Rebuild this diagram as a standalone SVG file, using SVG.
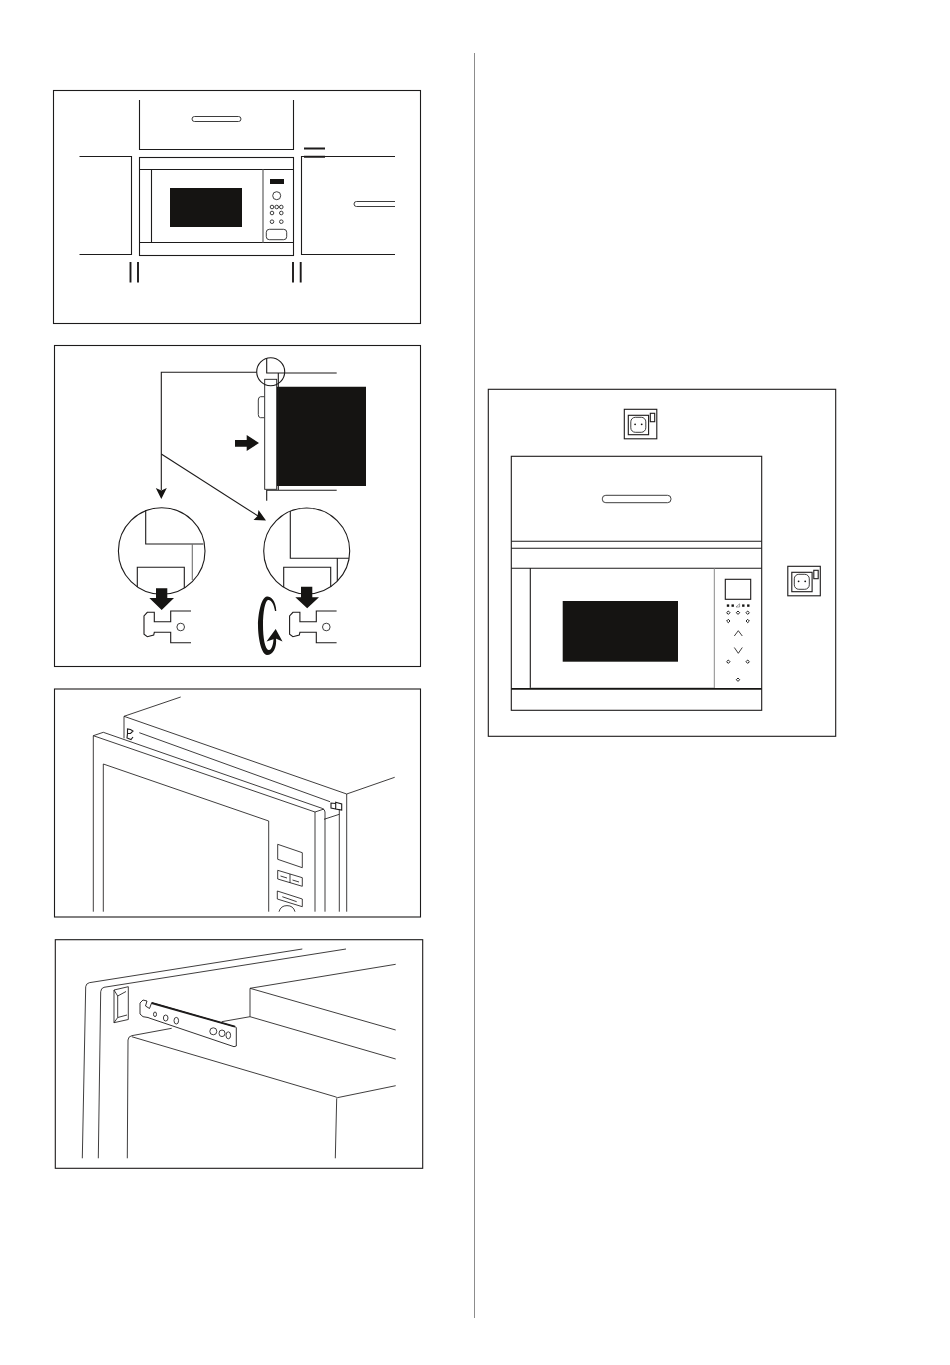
<svg xmlns="http://www.w3.org/2000/svg" width="950" height="1365" viewBox="0 0 950 1365">
<style>
.l{fill:none;stroke:#1d1b1b;stroke-width:1.1}
.b{fill:none;stroke:#1d1b1b;stroke-width:1.9}
.t{fill:none;stroke:#1d1b1b;stroke-width:.85}
.g{fill:none;stroke:#6f6f6f;stroke-width:1.1}
.w{fill:#fff;stroke:#1d1b1b;stroke-width:.9}
.k{fill:#151412;stroke:none}
.h{fill:none;stroke:#333;stroke-width:.95}
</style>
<defs>
<g id="clip"><path class="l" d="M191 611H170.7V621.7H154.3V612.3H147.3L144 616V634.3L147.3 636.7L153.7 635L154.3 632.3H170.7V642.7H191"/><circle class="h" cx="180.7" cy="627" r="3.8"/></g>
<g id="socket"><rect class="l" x="0" y="0" width="32.5" height="29.5"/><rect class="l" x="4" y="6" width="20.3" height="19.4"/><rect class="l" x="26" y="4" width="4.4" height="8.4"/><rect class="h" x="6.5" y="8" width="15" height="15" rx="4.5"/><circle class="k" cx="10.8" cy="15" r=".9"/><circle class="k" cx="17.4" cy="15" r=".9"/></g>
<g id="dm"><path d="M0-1.7L1.7 0L0 1.7L-1.7 0Z" fill="none" stroke="#222" stroke-width="1"/></g>
</defs>
<rect width="950" height="1365" fill="#fff"/>
<path id="divider" d="M474.5 53V1318" fill="none" stroke="#8c8c8c" stroke-width="1"/>

<g id="panel-1">
<rect class="l" x="53.5" y="90.5" width="367" height="233"/>
<path class="l" d="M139.5 100V149.5H293.5V100"/>
<rect class="h" x="192" y="116.5" width="49" height="5" rx="2.5"/>
<path class="b" d="M304 148.5H325M304 156.7H325"/>
<path class="l" d="M79.5 156.5H131.5V254.5H79.5"/>
<path class="l" d="M395 156.5H301.5V254.5H395"/>
<path class="h" d="M395 201.5H356.5A2.5 2.5 0 0 0 356.5 206.5H395"/>
<rect class="l" x="139.5" y="157.5" width="154" height="98"/>
<path class="l" d="M139.5 169.5H293.5M139.5 242.5H293.5M151.5 169.5V242.5"/>
<path d="M263 169.5V242.5" fill="none" stroke="#777" stroke-width="1.4"/>
<rect class="k" x="170" y="188" width="72" height="39"/>
<rect class="k" x="270" y="179" width="14" height="5"/>
<circle class="h" cx="276.7" cy="195.7" r="4"/>
<g class="h"><circle cx="272" cy="207" r="1.8"/><circle cx="276.7" cy="207" r="1.8"/><circle cx="281.3" cy="207" r="1.8"/><circle cx="272" cy="213" r="1.8"/><circle cx="281.3" cy="213" r="1.8"/><circle cx="272" cy="221.7" r="1.8"/><circle cx="281.3" cy="221.7" r="1.8"/></g>
<rect class="h" x="266.3" y="229.3" width="20.4" height="10.4" rx="3"/>
<path class="b" d="M130.5 262V282.5M138 262V282.5M293 262V282.5M300.7 262V282.5"/>
</g>

<g id="panel-2">
<rect class="l" x="54.5" y="345.5" width="366" height="321"/>
<path class="k" d="M276.7 386.7H366V486H276.7Z"/>
<path class="l" d="M266.7 358.3V373H336.7M278.3 373V490M266.7 500.7V490.3H336.7"/>
<rect class="w" x="264.7" y="379.3" width="12" height="110"/>
<path class="h" d="M264.3 396.7H260.5Q258.3 397 258.3 400V414.5Q258.3 417.7 260.5 417.7H264.3"/>
<circle class="l" cx="270.7" cy="371.7" r="14"/>
<path class="k" d="M235 440H246.7V435L259 443L246.7 451V446.7H235Z"/>
<circle class="l" cx="161.7" cy="551" r="43.3"/>
<path class="l" d="M145.7 510V544H203.3"/>
<path class="g" d="M192.3 544V580"/>
<path class="l" d="M137.3 587V567.3H184.3V588"/>
<path class="k" d="M156 588.3H167.3V598H174L161.7 610L149.3 598H156Z"/>
<use href="#clip"/>
<circle class="l" cx="306.7" cy="551" r="43"/>
<path class="l" d="M290.3 511V558.3H349M337.3 558.3V581"/>
<path class="l" d="M283.7 587V567.3H330.7V587"/>
<path class="k" d="M301 586.7H312.3V597.3H319L307.2 608.3L295.3 597.3H301Z"/>
<use href="#clip" x="145.6"/>
<path class="k" d="M276.3 611C276 600 270 596 267 596.5C261 597 258 615 258 625C258 640 262 655 267 655C273 655 277 648 276 638L273.5 638C273.5 645 271 651 268.5 650C265 649 263 638 263 625C263 612 265 601 268 600C271 599.5 274 604 275 611Z"/>
<path class="k" d="M275.7 629L282.5 641.5L275.7 638.5L266.5 641.5Z"/>
</g>

<g id="connectors">
<path class="l" d="M256.7 372.3H161.3V490"/>
<path class="k" d="M161.3 499L155.8 488L161.3 490.5L166.8 488Z"/>
<path class="l" d="M161.3 454L258 516"/>
<path class="k" d="M266 520.5L253.5 520L257.5 516L258.5 510Z"/>
</g>

<g id="panel-3">
<rect class="l" x="54.5" y="689" width="366" height="228"/>
<g class="t">
<path d="M180.7 697L124 716.3L346.7 794L394.7 777.3M346.7 794V911.7M124 716.3V738.3"/>
<path d="M139.3 732.7L330 801.7"/>
<path d="M93.3 911.7V735.7L103.3 732.3L322 808.3Q325 809.5 325 812V911.7M93.3 735.7L315 812L324 809M315 812V911.7"/>
<path d="M103.3 911.7V764L268.7 821V911.7"/>
<path d="M324 819.3L339.3 814.3M339.3 809V911.7"/>
<path class="l" d="M335.7 802.3L341.7 804V810L335.7 809ZM335.7 803.5L331 803V808L335.7 809"/>
<path class="l" d="M127.5 733.5V729L130.5 729.5L133 731L130.5 733.5ZM127.5 733.5L127 738L131 739.5L133 737"/>
<path d="M277.7 844.3L302.3 852.7V867.7L277.7 859.3Z"/>
<path d="M277.7 870.3L302.3 877.7V886.3L277.7 879ZM290 874V883M280.5 876L287 878M292.5 880L299 882"/>
<path d="M277.3 891L302.3 899V906.7L277.3 899ZM282.3 896.7L296.7 901.7"/>
<path d="M279 911.7A8.3 8.3 0 0 1 295 911.7"/>
</g>
</g>

<g id="panel-4">
<rect class="l" x="55.3" y="939.7" width="367.4" height="228.6"/>
<g class="t">
<path d="M82.3 1158.3L85.7 986.7Q86 983.5 89.3 982.7L302.3 949"/>
<path d="M98.3 1158.3L100.7 991.7Q101 988 104 987.3L346 949"/>
<path d="M114 990L128.3 986.7L128.3 1019.5L114 1022.7ZM114 990L117.7 996V1017.5L114 1022.7M117.7 996L126 991.5M117.7 1017.5L127 1015"/>
<path d="M250 988.3L395.7 964.3M250 988.3L395.7 1030M250 988.3V1016.7L395.7 1059M250 1016.7L221.7 1021.7"/>
<path d="M127.3 1158.3L128 1040Q128.2 1036.5 131.7 1035.7L171.7 1028.3"/>
<path d="M131.7 1036.7L335 1096.7Q337 1097.5 337.3 1097.7L395.7 1085.7M336.7 1098.3L335.3 1158.3"/>
<path class="w" d="M151.7 1002.7L235 1026.7L236.3 1027.5V1046L234 1046.7L150 1018.3L148 1017.5L143 1016.7L140 1014V1003L143 1000L147 1001L145.5 1006L149.5 1008.5L151.7 1002.7Z"/>
<path class="b" d="M151.7 1003L235 1026.7"/>
<ellipse cx="155" cy="1014.3" rx="1.5" ry="2.3"/><ellipse cx="165.7" cy="1018" rx="2.3" ry="3"/><ellipse cx="176.3" cy="1020.7" rx="2.3" ry="3.3"/>
<ellipse cx="213.3" cy="1031.3" rx="3.5" ry="3.5"/><ellipse cx="222" cy="1033.3" rx="3" ry="3.3"/><ellipse cx="228.3" cy="1035.3" rx="2.3" ry="3.5"/>
</g>
</g>

<g id="panel-5">
<rect class="l" x="488.3" y="389.3" width="347.4" height="347"/>
<use id="socket-top" href="#socket" x="624.3" y="409.3"/>
<use id="socket-right" href="#socket" x="787.8" y="566.3"/>
<rect class="l" x="511.3" y="456.3" width="250.4" height="254"/>
<rect class="h" x="602.3" y="495.3" width="68.7" height="7.4" rx="3.5"/>
<path class="l" d="M511.3 541.3H761.7M511.3 548.3H761.7M511.3 568.3H761.7M530.3 568.3V688"/>
<path d="M714.3 568.3V688" fill="none" stroke="#8a8a8a" stroke-width="1"/>
<path d="M530.3 688H714.3" fill="none" stroke="#8a8a8a" stroke-width=".8"/>
<path d="M511.3 688.9H761.7" fill="none" stroke="#151412" stroke-width="1.6"/>
<rect class="k" x="562.7" y="601" width="115.3" height="60.7"/>
<rect class="l" x="725.3" y="579.3" width="25.4" height="20"/>
<g class="k"><rect x="726.8" y="604.4" width="2.4" height="2.4"/><rect x="731.5" y="604.4" width="2.4" height="2.4"/><rect x="742.1" y="604.4" width="2.4" height="2.4"/><rect x="747.1" y="604.4" width="2.4" height="2.4"/></g>
<path d="M736 607H739.6V603.8Z" fill="none" stroke="#444" stroke-width=".5"/>
<use href="#dm" x="728.3" y="612.7"/><use href="#dm" x="738" y="612.7"/><use href="#dm" x="747.7" y="612.7"/>
<use href="#dm" x="728.3" y="621"/><use href="#dm" x="747.7" y="621"/>
<use href="#dm" x="728.3" y="661.7"/><use href="#dm" x="747.7" y="661.7"/><use href="#dm" x="738" y="679.7"/>
<path class="t" d="M734.3 636L738.3 630.7L742.3 636M734.3 647.5L738.3 653.3L742.3 647.5"/>
</g>
</svg>
